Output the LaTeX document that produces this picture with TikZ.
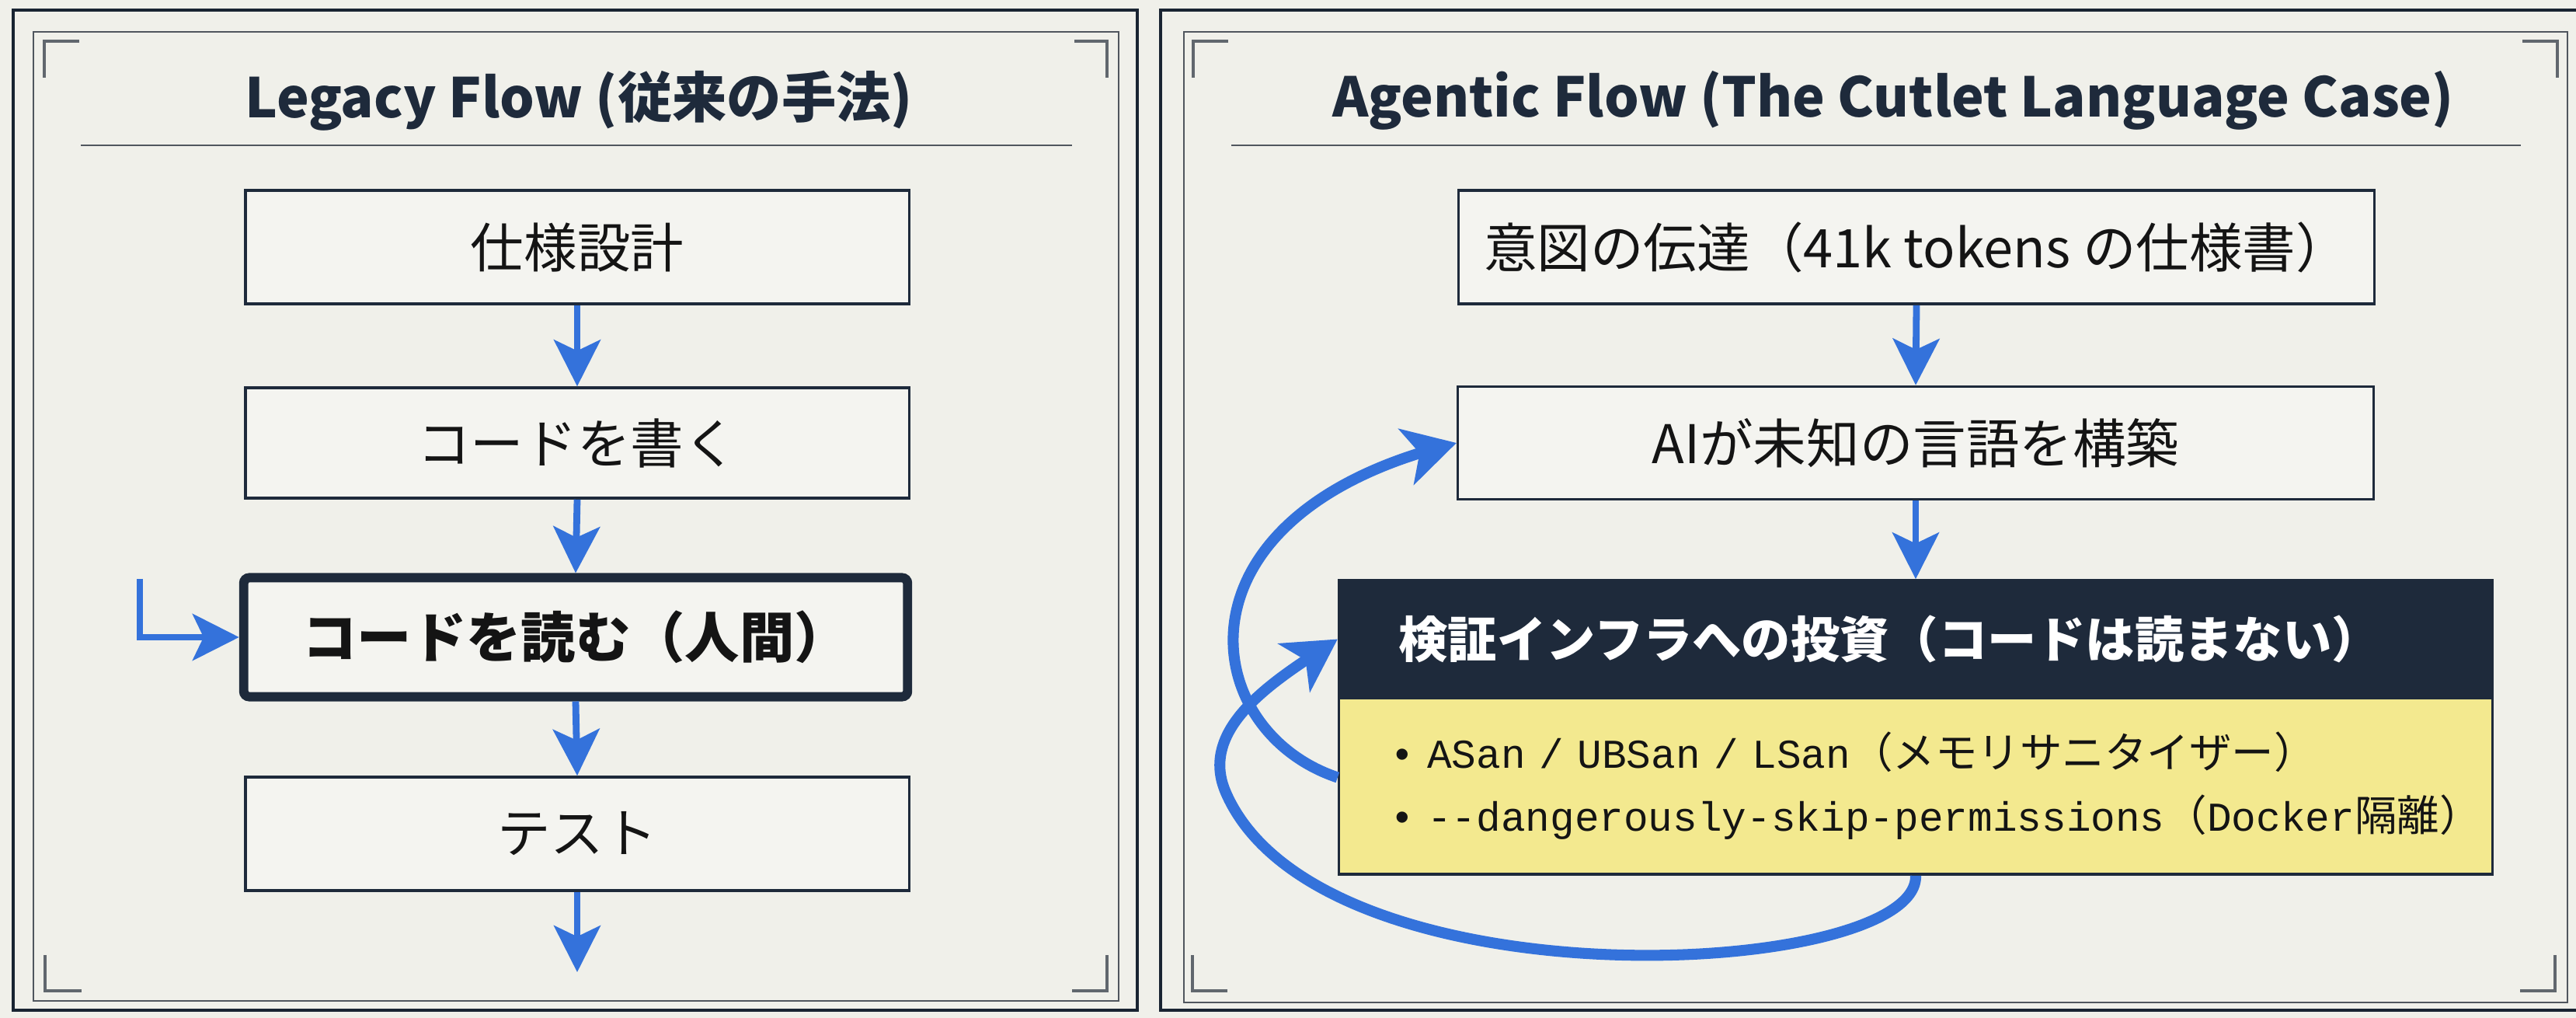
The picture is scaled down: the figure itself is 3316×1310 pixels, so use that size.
\documentclass[tikz,border=0pt]{standalone}
\usepackage{fontspec}
\setmainfont{Noto Sans CJK JP}
\newfontfamily\monof{Liberation Mono}
\usetikzlibrary{arrows.meta,bending}
\definecolor{bgc}{HTML}{F0F0EA}
\definecolor{boxfill}{HTML}{F4F4F0}
\definecolor{navy}{HTML}{1E2A3B}
\definecolor{flowblue}{HTML}{3472DB}
\definecolor{hiyellow}{HTML}{F3E98F}
\definecolor{framegrey}{HTML}{50565E}
\definecolor{inkc}{HTML}{141414}
\newcommand{\jpbig}[1]{{\fontsize{15.5pt}{23pt}\selectfont #1}}
\begin{document}
\begin{tikzpicture}[x=0.01cm,y=-0.01cm,
  panelouter/.style={draw=navy!85!black, line width=1.1pt},
  panelinner/.style={draw=framegrey, line width=0.75pt},
  bracketline/.style={draw=framegrey!90, line width=0.9pt},
  ruleline/.style={draw=framegrey, line width=0.8pt},
  titletext/.style={text=navy, font=\fontsize{20pt}{24pt}\selectfont\bfseries, anchor=base, inner sep=0pt},
  flowbox/.style={draw=navy, line width=1pt, fill=boxfill, minimum width=8.54cm, minimum height=1.46cm, inner sep=0pt, text=inkc, font=\fontsize{19.5pt}{24pt}\selectfont},
  readbox/.style={flowbox, line width=3.4pt, rounded corners=2pt, minimum height=1.53cm, font=\fontsize{20pt}{24pt}\selectfont\bfseries},
  rbox/.style={flowbox, minimum width=11.78cm},
  hdrbox/.style={draw=navy, line width=1pt, fill=navy, minimum width=14.84cm, minimum height=1.51cm, inner ysep=0pt, inner xsep=0.77cm, text width=13.3cm, align=left, text=white, font=\fontsize{18pt}{22pt}\selectfont\bfseries},
  yelbox/.style={draw=navy, line width=1pt, fill=hiyellow, minimum width=14.84cm, minimum height=2.27cm, inner ysep=0pt, inner xsep=0.66cm, text width=13.52cm, align=left, text=inkc, font=\fontsize{15pt}{23pt}\selectfont},
  flowarrow/.style={draw=flowblue, line width=2.5pt, -{Stealth[length=17pt, width=17pt, inset=4pt]}},
  looparrow/.style={draw=flowblue, line width=4pt, -{Stealth[length=19pt, width=21pt, inset=5pt, flex]}}
]
\clip (0,0) rectangle (3316,1310);
\fill[bgc] (0,0) rectangle (3316,1310);

% panels
\draw[panelouter] (17,13) rectangle (1464,1300);
\draw[panelinner] (43,41) rectangle (1440,1288);
\draw[panelouter] (1494,13) rectangle (3340,1300);
\draw[panelinner] (1524,41) rectangle (3305,1290);

% corner brackets
\draw[bracketline] (102,53) -- (57,53) -- (57,100);
\draw[bracketline] (1383,53) -- (1425,53) -- (1425,100);
\draw[bracketline] (58,1229) -- (58,1275) -- (105,1275);
\draw[bracketline] (1425,1229) -- (1425,1275) -- (1380,1275);
\draw[bracketline] (1581,53) -- (1536,53) -- (1536,100);
\draw[bracketline] (3247,53) -- (3292,53) -- (3292,100);
\draw[bracketline] (1535,1229) -- (1535,1275) -- (1580,1275);
\draw[bracketline] (3289,1229) -- (3289,1275) -- (3244,1275);

% titles
\node[titletext] (ltitle) at (745,152) {Legacy Flow (従来の手法)};
\node[titletext] (rtitle) at (2437,151) {Agentic Flow (The Cutlet Language Case)};
\draw[ruleline] (104,187) -- (1380,187);
\draw[ruleline] (1585,187) -- (3245,187);

% left flow
\node[flowbox] (L1) at (743,318) {仕様設計};
\node[flowbox, minimum height=1.42cm] (L2) at (743,570) {コードを書く};
\node[readbox] (L3) at (741,820) {コードを読む（人間）};
\node[flowbox] (L4) at (743,1073) {テスト};
\coordinate (Lend) at (743,1251);
\coordinate (Lside) at (180,745);

\draw[flowarrow] (L1.south) -- (L2.north);
\draw[flowarrow] (L2.south) -- (L3.north);
\draw[flowarrow] (L3.south) -- (L4.north);
\draw[flowarrow] (L4.south) -- (Lend);
\draw[flowarrow] (Lside) |- (L3.west);

% right flow
\node[rbox] (R1) at (2467,318) {意図の伝達（41k tokens の仕様書）};
\node[rbox, minimum height=1.45cm] (R2) at (2466,570) {AIが未知の言語を構築};
\node[yelbox] (Y) at (2466,1011.5) {\mbox{{\monof •\hspace{0.3em}ASan / UBSan / LSan}\jpbig{（メモリサニタイザー）}}\\
\mbox{{\monof •\hspace{0.3em}-{}-dangerously-skip-permissions}\jpbig{（}{\monof Docker}\jpbig{隔離）}}};
\node[hdrbox] (H) at (2466,822.5) {検証インフラへの投資（コードは読まない）};

\draw[flowarrow] (R1.south) -- (R2.north);
\draw[flowarrow] (R2.south) -- (H.north);

% feedback loops
\draw[looparrow] ([yshift=0.11cm]Y.west) .. controls (1540,940) and (1500,660) .. (R2.west);
\draw[looparrow] (Y.south) .. controls (2470,1260) and (1700,1300) .. (1578,1020)
  .. controls (1540,933) and (1650,870) .. (H.west);
\end{tikzpicture}
\end{document}
